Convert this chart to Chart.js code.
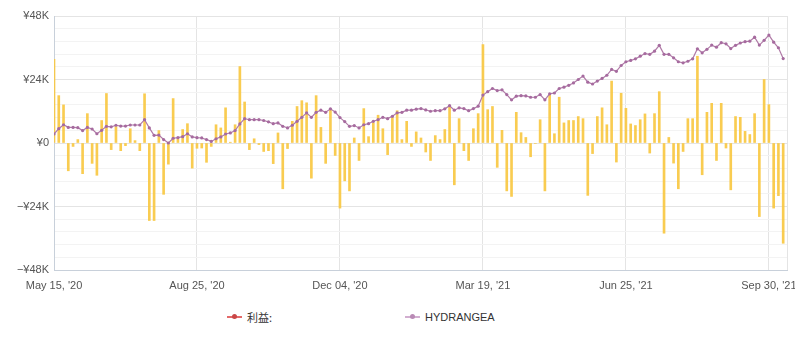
<!DOCTYPE html>
<html>
<head>
<meta charset="utf-8">
<title>HYDRANGEA 利益</title>
<script src="https://cdn.jsdelivr.net/npm/chart.js@4.4.1/dist/chart.umd.min.js"></script>
<style>
  body { margin: 0; background: #fff; font-family: "Liberation Sans", Arial, sans-serif; }
  #wrap { position: relative; width: 795px; height: 300px; }
  #legend { display: flex; padding-left: 227px; margin-top: 9px; font-size: 11px; color: #333; }
  .item { display: flex; align-items: center; width: 178px; }
  .mark { position: relative; width: 15px; height: 2px; margin-right: 5px; }
  .mark i { position: absolute; left: 5px; top: -2px; width: 5px; height: 5px; border-radius: 50%; }
</style>
</head>
<body>
<div id="wrap"><canvas id="chart"></canvas></div>
<div id="legend">
  <div class="item"><span class="mark" style="background:#e46a6a"><i style="background:#c94747"></i></span><span style="font-family:'Noto Sans CJK JP', sans-serif">利益:</span></div>
  <div class="item"><span class="mark" style="background:#d2aed0"><i style="background:#b98ab5"></i></span><span>HYDRANGEA</span></div>
</div>
<script>
// x positions are trade index; only a few dates are labelled
const tickIdx = [0, 30, 60, 90, 120, 150];
const tickLabels = ["May 15, '20", "Aug 25, '20", "Dec 04, '20", "Mar 19, '21", "Jun 25, '21", "Sep 30, '21"];
const xMax = 153.8;

// profit per trade (yen)
const profit = [
  31600, 17900, 14400, -10500, -1300, 1300, -11600, 11100, -7700, -12200,
  8500, 18700, -2500, 6200, -2900, -1000, 5400, 900, -2900, 18600,
  -29300, -29300, 4700, -19400, -8000, 16800, 1500, 5100, 7300, -9500,
  -2000, -1900, -7300, -1300, 6900, 5700, 13300, 300, 6900, 28900,
  15500, -2500, 1600, -600, -3200, -2900, -7800, 3800, -17300, -2100,
  8200, 13800, 16000, 15200, -13300, 17900, 5900, -7700, 12600, -4700,
  -24600, -14300, -18100, 1900, -6600, 13000, 2400, 7600, 10500, 5400,
  -4400, 9700, 12200, 1300, 8200, -1300, 4200, 1900, -3400, -6600,
  2800, 1300, 5100, 13500, -15800, 9200, -2900, -6600, 5400, 11100,
  37200, 12600, 13800, -9200, 4800, -18100, -20200, 11600, 3900, 2100,
  -5200, -200, 8800, -18100, 18100, 3500, 17300, 7600, 8500, 8500,
  10000, 9200, -19800, -4000, 10000, 13300, 6900, 23400, -7200, 18800,
  13100, 7200, 6600, 8800, 11000, -3800, 11100, 19400, -34100, 2100,
  -7600, -17300, -3200, 9200, 9200, 32800, -12000, 11600, 15000, -6600,
  15000, -1900, -17700, 10000, 9700, 4400, 3200, 11100, -27800, 24000,
  14500, -24600, -19900, -37900
];

// HYDRANGEA balance line (yen)
const hydrangea = [
  3400, 5400, 6900, 5900, 5900, 5800, 4700, 5900, 5300, 3500,
  4800, 6300, 6100, 6700, 6400, 6400, 6800, 6800, 6800, 8800,
  5700, 2900, 3000, 1300, 0, 1800, 2000, 2400, 3500, 2300,
  2000, 1900, 1300, 600, 1600, 2300, 3400, 3800, 4700, 7200,
  9200, 8800, 8800, 8800, 8500, 8000, 7300, 7600, 6300, 5700,
  6700, 8200, 9700, 11400, 9700, 11600, 12400, 11600, 12900, 11700,
  9600, 8100, 6300, 6600, 5700, 6900, 7300, 8200, 8800, 9700,
  9200, 10100, 11400, 11600, 12400, 12400, 12800, 13000, 12500, 12000,
  12200, 12200, 12900, 14100, 12400, 13300, 13000, 12200, 13000, 13900,
  18100, 19400, 20600, 19800, 20100, 18300, 16300, 17700, 17900, 17800,
  17300, 17300, 18300, 16300, 18600, 18900, 20600, 21100, 21800, 22700,
  24000, 25300, 23000, 22300, 23400, 24400, 25600, 27800, 27100, 29300,
  30700, 31200, 31800, 32800, 33800, 33500, 34700, 36900, 33500, 33500,
  32200, 30700, 30300, 30900, 31800, 35600, 34100, 35400, 37000, 36200,
  37900, 37500, 35700, 36900, 37800, 38300, 38500, 40000, 37000, 38800,
  40800, 38100, 36000, 31900
];

const tickFont = { family: "'Liberation Sans', Arial, sans-serif", size: 11 };

function yen(v) {
  if (v === 0) return "¥0";
  const k = Math.abs(v) / 1000 + "K";
  return (v < 0 ? "−¥" : "¥") + k;
}

const ctx = document.getElementById("chart").getContext("2d");
new Chart(ctx, {
  type: "bar",
  data: {
    datasets: [
      {
        type: "line",
        label: "HYDRANGEA",
        data: hydrangea.map((v, i) => ({ x: i, y: v })),
        borderColor: "#b07aa7",
        backgroundColor: "#a66b9f",
        borderWidth: 1.2,
        pointRadius: 1.6,
        pointBorderWidth: 0,
        pointBackgroundColor: "#a66b9f",
        tension: 0,
        order: 0,
      },
      {
        label: "利益:",
        data: profit.map((v, i) => ({ x: i, y: v })),
        backgroundColor: "rgba(248, 198, 62, 0.9)",
        barThickness: 2,
        order: 1,
      },
    ],
  },
  options: {
    responsive: true,
    maintainAspectRatio: false,
    animation: false,
    layout: { padding: { top: 16, right: 8, left: 0, bottom: 0 } },
    plugins: {
      legend: { display: false },
      tooltip: { enabled: false },
    },
    scales: {
      x: {
        type: "linear",
        min: 0,
        max: xMax,
        offset: false,
        afterBuildTicks: (s) => {
          s.ticks = tickIdx.map((v) => ({ value: v })).concat([{ value: xMax }]);
        },
        afterFit: (s) => {
          s.height = 30;
          s.paddingLeft = 0;
          s.paddingRight = 0;
        },
        ticks: {
          autoSkip: false,
          maxRotation: 0,
          padding: 9,
          color: "#555",
          font: tickFont,
          callback: (v) => {
            const n = tickIdx.indexOf(v);
            return n < 0 ? "" : tickLabels[n];
          },
        },
        grid: { color: "#e4e4e4", drawTicks: false, offset: false },
        border: { color: "#c8d0da" },
      },
      y: {
        min: -48000,
        max: 48000,
        afterFit: (s) => {
          s.width = 54;
          s.paddingTop = 0;
          s.paddingBottom = 0;
        },
        ticks: {
          stepSize: 4800,
          autoSkip: false,
          padding: 5,
          color: "#555",
          font: tickFont,
          callback: (v) => (Math.round(v) % 24000 === 0 ? yen(Math.round(v)) : ""),
        },
        grid: {
          drawTicks: false,
          color: (c) => (Math.round(c.tick.value) % 24000 === 0 ? "#e4e4e4" : "#f3f3f3"),
        },
        border: { color: "#c8d0da" },
      },
    },
  },
});
</script>
</body>
</html>
